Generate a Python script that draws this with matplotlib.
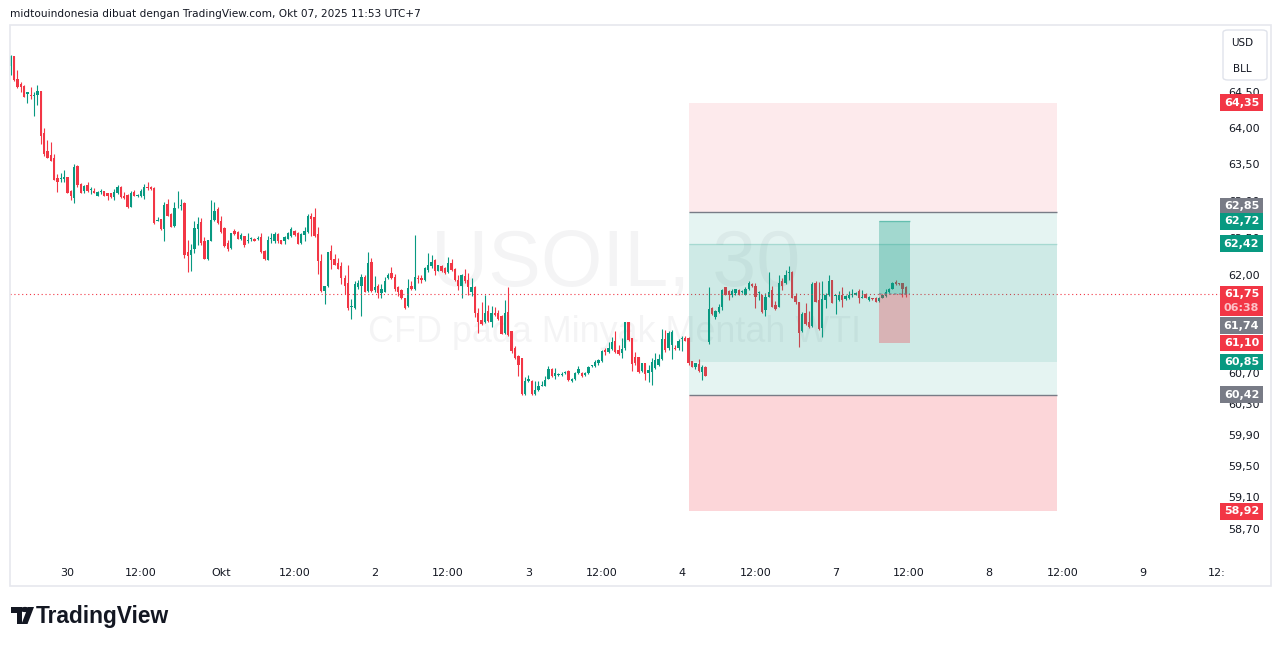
import numpy as np
import matplotlib
matplotlib.use("Agg")
import matplotlib.pyplot as plt
from matplotlib.patches import Rectangle, FancyBboxPatch, Polygon, Circle

# USOIL 30 min candles, Sep 29 15:30 .. Oct 7 11:30 (UTC+7), weekend gap compressed
opens = [64.86, 65.00, 64.68, 64.61, 64.58, 64.47, 64.46, 64.44, 64.45, 64.51,
         63.93, 63.68, 63.62, 63.59, 63.31, 63.30, 63.30, 63.32, 63.14, 63.04,
         63.48, 63.23, 63.14, 63.21, 63.15, 63.14, 63.07, 63.12, 63.13, 63.10,
         63.10, 63.05, 63.10, 63.19, 63.07, 63.08, 62.92, 63.12, 63.06, 63.06,
         63.07, 63.19, 63.19, 63.18, 62.73, 62.75, 62.62, 62.96, 62.82, 62.66,
         62.91, 62.93, 62.97, 62.31, 62.27, 62.35, 62.62, 62.71, 62.46, 62.22,
         62.46, 62.74, 62.89, 62.73, 62.63, 62.43, 62.36, 62.59, 62.58, 62.49,
         62.52, 62.46, 62.49, 62.48, 62.48, 62.51, 62.32, 62.20, 62.49, 62.46,
         62.55, 62.47, 62.45, 62.49, 62.52, 62.59, 62.57, 62.43, 62.54, 62.58,
         62.79, 62.78, 62.55, 62.19, 61.79, 61.85, 62.32, 62.21, 62.16, 62.12,
         61.96, 61.89, 61.57, 61.56, 61.84, 61.86, 61.98, 61.79, 62.17, 61.80,
         61.85, 61.76, 61.78, 61.96, 62.03, 61.98, 61.84, 61.80, 61.70, 61.59,
         61.86, 61.81, 61.96, 61.96, 61.93, 62.07, 62.12, 62.20, 62.06, 62.12,
         62.09, 62.04, 62.16, 62.08, 61.94, 61.86, 61.99, 61.93, 61.78, 61.84,
         61.50, 61.40, 61.37, 61.52, 61.38, 61.50, 61.49, 61.45, 61.23, 61.51,
         61.25, 61.03, 60.93, 60.90, 60.43, 60.60, 60.60, 60.43, 60.48, 60.54,
         60.54, 60.63, 60.76, 60.66, 60.68, 60.68, 60.70, 60.73, 60.60, 60.62,
         60.70, 60.71, 60.68, 60.71, 60.79, 60.80, 60.83, 60.86, 61.00, 60.98,
         61.02, 61.12, 61.00, 60.96, 61.03, 61.38, 61.16, 60.91, 60.91, 60.73,
         60.83, 60.70, 60.72, 60.77, 60.81, 60.89, 61.15, 61.03, 61.07, 61.03,
         61.03, 61.15, 61.17, 61.17, 60.86, 60.78, 60.82, 60.72, 60.78, 61.11,
         61.56, 61.44, 61.51, 61.58, 61.84, 61.79, 61.73, 61.76, 61.80, 61.77,
         61.74, 61.81, 61.88, 61.86, 61.76, 61.73, 61.53, 61.71, 61.80, 61.60,
         61.58, 61.92, 61.89, 62.03, 62.04, 61.72, 61.64, 61.25, 61.50, 61.38,
         61.32, 61.90, 61.67, 61.29, 61.67, 61.73, 61.93, 61.72, 61.67, 61.74,
         61.68, 61.70, 61.73, 61.74, 61.79, 61.70, 61.75, 61.67, 61.69, 61.70,
         61.65, 61.70, 61.72, 61.77, 61.82, 61.91, 61.89, 61.89, 61.84]
highs = [65.02, 65.00, 64.80, 64.64, 64.59, 64.50, 64.57, 64.50, 64.59, 64.51,
         64.00, 63.83, 63.81, 63.64, 63.36, 63.38, 63.42, 63.33, 63.15, 63.50,
         63.49, 63.24, 63.22, 63.26, 63.19, 63.18, 63.13, 63.16, 63.14, 63.11,
         63.10, 63.16, 63.21, 63.20, 63.12, 63.09, 63.13, 63.15, 63.09, 63.16,
         63.23, 63.26, 63.20, 63.19, 62.78, 62.76, 62.99, 63.02, 62.83, 62.99,
         63.13, 63.03, 62.98, 62.47, 62.41, 62.72, 62.78, 62.77, 62.51, 62.47,
         63.01, 62.99, 62.91, 62.80, 62.64, 62.47, 62.57, 62.62, 62.59, 62.57,
         62.53, 62.56, 62.51, 62.50, 62.53, 62.57, 62.33, 62.53, 62.56, 62.58,
         62.56, 62.47, 62.52, 62.58, 62.64, 62.60, 62.58, 62.57, 62.65, 62.82,
         62.84, 62.90, 62.65, 62.28, 61.86, 62.31, 62.40, 62.28, 62.23, 62.17,
         62.00, 62.14, 61.68, 61.92, 61.93, 62.01, 62.00, 62.31, 62.23, 61.99,
         61.88, 61.88, 61.98, 62.03, 62.11, 62.01, 61.86, 61.81, 61.70, 61.95,
         61.92, 62.54, 62.00, 62.00, 62.11, 62.29, 62.27, 62.21, 62.14, 62.14,
         62.11, 62.24, 62.21, 62.10, 62.00, 62.02, 62.08, 62.03, 61.96, 61.85,
         61.56, 61.64, 61.74, 61.60, 61.59, 61.58, 61.53, 61.47, 61.67, 61.84,
         61.25, 61.06, 60.94, 60.90, 60.65, 60.68, 60.61, 60.60, 60.60, 60.60,
         60.66, 60.79, 60.77, 60.77, 60.70, 60.72, 60.73, 60.74, 60.64, 60.72,
         60.79, 60.72, 60.72, 60.79, 60.81, 60.87, 60.89, 61.00, 61.03, 61.11,
         61.18, 61.26, 61.07, 61.17, 61.38, 61.38, 61.16, 60.98, 60.91, 60.84,
         60.84, 60.81, 60.90, 60.96, 60.95, 61.28, 61.27, 61.25, 61.27, 61.07,
         61.15, 61.19, 61.19, 61.18, 60.86, 60.84, 60.89, 60.81, 60.79, 61.84,
         61.57, 61.54, 61.62, 61.81, 61.84, 61.80, 61.81, 61.82, 61.81, 61.80,
         61.84, 61.92, 61.89, 61.89, 61.79, 61.74, 61.76, 62.04, 61.85, 61.65,
         62.00, 61.96, 62.07, 62.12, 62.05, 61.76, 61.64, 61.51, 61.63, 61.52,
         61.91, 61.92, 61.91, 61.92, 61.76, 62.00, 61.94, 61.74, 61.79, 61.84,
         61.74, 61.79, 61.81, 61.77, 61.81, 61.80, 61.76, 61.72, 61.70, 61.71,
         61.71, 61.74, 61.82, 61.83, 61.91, 61.93, 61.90, 61.89, 61.85]
lows = [64.73, 64.65, 64.55, 64.49, 64.42, 64.34, 64.40, 64.17, 64.31, 63.78,
        63.61, 63.58, 63.54, 63.28, 63.12, 63.26, 63.26, 63.10, 63.01, 62.97,
        63.19, 63.10, 63.10, 63.12, 63.09, 63.10, 63.06, 63.09, 63.07, 63.01,
        63.04, 63.01, 63.09, 63.04, 63.03, 62.90, 62.91, 63.06, 63.05, 63.05,
        63.02, 63.15, 63.15, 62.69, 62.72, 62.61, 62.45, 62.79, 62.64, 62.65,
        62.90, 62.88, 62.23, 62.04, 62.05, 62.29, 62.40, 62.40, 62.21, 62.20,
        62.46, 62.72, 62.69, 62.57, 62.38, 62.32, 62.35, 62.54, 62.48, 62.47,
        62.38, 62.43, 62.46, 62.45, 62.47, 62.30, 62.20, 62.20, 62.43, 62.43,
        62.43, 62.41, 62.41, 62.48, 62.51, 62.53, 62.41, 62.41, 62.45, 62.57,
        62.52, 62.51, 62.01, 61.78, 61.62, 61.84, 62.08, 62.13, 62.08, 61.88,
        61.75, 61.54, 61.41, 61.55, 61.82, 61.45, 61.77, 61.77, 61.78, 61.78,
        61.70, 61.70, 61.77, 61.95, 61.95, 61.79, 61.72, 61.68, 61.55, 61.58,
        61.80, 61.80, 61.90, 61.89, 61.92, 62.04, 62.10, 62.00, 62.05, 62.04,
        62.02, 62.03, 62.06, 61.92, 61.80, 61.69, 61.90, 61.73, 61.72, 61.44,
        61.23, 61.34, 61.36, 61.37, 61.31, 61.45, 61.40, 61.21, 61.22, 61.19,
        60.96, 60.89, 60.67, 60.42, 60.42, 60.59, 60.41, 60.42, 60.47, 60.53,
        60.53, 60.62, 60.65, 60.63, 60.67, 60.66, 60.69, 60.60, 60.59, 60.61,
        60.69, 60.65, 60.67, 60.69, 60.78, 60.78, 60.81, 60.85, 60.94, 60.96,
        61.00, 60.97, 60.94, 60.90, 61.00, 61.13, 60.73, 60.81, 60.71, 60.72,
        60.61, 60.59, 60.55, 60.75, 60.79, 60.87, 60.98, 61.00, 60.89, 61.00,
        61.01, 60.99, 61.12, 60.81, 60.78, 60.76, 60.72, 60.61, 60.66, 61.09,
        61.47, 61.41, 61.50, 61.54, 61.73, 61.67, 61.71, 61.74, 61.73, 61.76,
        61.73, 61.80, 61.84, 61.56, 61.67, 61.50, 61.45, 61.71, 61.57, 61.53,
        61.57, 61.80, 61.88, 61.93, 61.69, 61.62, 61.04, 61.24, 61.33, 61.30,
        61.31, 61.64, 61.27, 61.18, 61.56, 61.72, 61.63, 61.48, 61.66, 61.58,
        61.67, 61.68, 61.71, 61.73, 61.63, 61.69, 61.69, 61.66, 61.67, 61.64,
        61.64, 61.69, 61.71, 61.76, 61.81, 61.87, 61.87, 61.71, 61.71]
closes = [65.00, 64.67, 64.57, 64.56, 64.43, 64.50, 64.44, 64.45, 64.51, 63.89,
          63.64, 63.59, 63.55, 63.29, 63.26, 63.31, 63.32, 63.11, 63.06, 63.46,
          63.22, 63.11, 63.20, 63.14, 63.16, 63.11, 63.12, 63.14, 63.07, 63.07,
          63.05, 63.12, 63.19, 63.05, 63.04, 62.91, 63.11, 63.07, 63.08, 63.13,
          63.19, 63.18, 63.16, 62.70, 62.74, 62.62, 62.94, 62.80, 62.65, 62.90,
          62.92, 62.94, 62.27, 62.25, 62.34, 62.63, 62.69, 62.43, 62.22, 62.47,
          62.74, 62.86, 62.70, 62.58, 62.39, 62.35, 62.57, 62.55, 62.49, 62.54,
          62.40, 62.47, 62.50, 62.46, 62.49, 62.31, 62.21, 62.47, 62.50, 62.55,
          62.46, 62.42, 62.51, 62.56, 62.62, 62.54, 62.42, 62.55, 62.59, 62.79,
          62.76, 62.52, 62.19, 61.79, 61.85, 62.31, 62.20, 62.14, 62.08, 61.96,
          61.86, 61.56, 61.58, 61.88, 61.90, 61.97, 61.78, 62.16, 61.79, 61.84,
          61.76, 61.81, 61.92, 62.00, 61.96, 61.81, 61.78, 61.70, 61.56, 61.83,
          61.81, 61.98, 61.95, 61.94, 62.09, 62.14, 62.18, 62.06, 62.13, 62.05,
          62.03, 62.16, 62.07, 61.93, 61.85, 62.00, 61.92, 61.84, 61.84, 61.50,
          61.38, 61.35, 61.49, 61.39, 61.50, 61.47, 61.42, 61.22, 61.49, 61.20,
          60.99, 60.90, 60.81, 60.43, 60.60, 60.62, 60.43, 60.48, 60.53, 60.55,
          60.61, 60.76, 60.66, 60.70, 60.69, 60.69, 60.71, 60.61, 60.63, 60.71,
          60.75, 60.66, 60.71, 60.78, 60.80, 60.85, 60.88, 60.99, 60.98, 61.03,
          61.11, 60.98, 60.95, 61.02, 61.37, 61.14, 60.82, 60.83, 60.72, 60.83,
          60.69, 60.74, 60.85, 60.88, 60.89, 61.15, 61.01, 61.23, 61.24, 61.02,
          61.13, 61.16, 61.13, 60.83, 60.78, 60.83, 60.73, 60.78, 60.67, 61.55,
          61.48, 61.52, 61.58, 61.80, 61.74, 61.73, 61.79, 61.81, 61.74, 61.79,
          61.82, 61.89, 61.85, 61.71, 61.77, 61.51, 61.71, 61.77, 61.58, 61.55,
          61.89, 61.86, 62.00, 62.04, 61.70, 61.64, 61.23, 61.48, 61.35, 61.31,
          61.88, 61.64, 61.28, 61.68, 61.73, 61.92, 61.63, 61.73, 61.73, 61.67,
          61.72, 61.74, 61.74, 61.76, 61.70, 61.71, 61.70, 61.71, 61.68, 61.64,
          61.70, 61.73, 61.78, 61.82, 61.89, 61.88, 61.88, 61.81, 61.75]

# time axis (bar index of each label)
time_ticks = [17, 39, 63, 85, 109, 131, 155, 177, 201, 223, 247, 269, 293, 315, 339, 361]
time_labels = ["30", "12:00", "Okt", "12:00", "2", "12:00", "3", "12:00",
               "4", "12:00", "7", "12:00", "8", "12:00", "9", "12:"]

price_ticks = [64.5, 64.0, 63.5, 63.0, 62.5, 62.0, 60.7, 60.3, 59.9, 59.5, 59.1, 58.7]

last_price = 61.75
countdown = "06:38"

# big position drawing
box_start, box_end = 203, 313.3
upper_stop, upper_entry = 64.35, 62.85
lower_entry, lower_stop = 60.42, 58.92
zone_top, zone_bottom = 62.42, 60.85
# small long position
pos_start, pos_end = 260, 269.2
pos_target, pos_entry, pos_stop = 62.72, 61.75, 61.10

# price axis badges: value, colour, shift in px (label collision)
badge_vals = [64.35, 62.85, 62.72, 62.42, 61.74, 61.10, 60.85, 60.42, 58.92]
badge_cols = ["red", "gray", "green", "green", "gray", "red", "green", "gray", "red"]
badge_shift = [0, -6, 0, 0, 31, 0, 0, 0, 0]

GREEN = "#089981"
RED = "#f23645"
GRAY = "#787b86"
TEXT = "#131722"
COLS = {"red": RED, "green": GREEN, "gray": GRAY}

W, H = 1281, 646


def fx(x):
    return x / W


def fy(y):
    return 1 - y / H


fig = plt.figure(figsize=(W / 100, H / 100), dpi=100)
fig.patch.set_facecolor("white")
ax = fig.add_axes([fx(10), fy(557), fx(1210), 532 / H])
ax.set_yscale("log")
ax.set_xlim(-0.21, 362.1)
ax.set_ylim(58.342, 65.435)
for s in ax.spines.values():
    s.set_visible(False)

o = np.array(opens)
h = np.array(highs)
l = np.array(lows)
c = np.array(closes)
x = np.arange(len(c))
up = c >= o
cols = np.where(up, GREEN, RED)

# candles
ax.vlines(x, l, h, colors=cols, lw=0.8, zorder=2)
body_lo = np.minimum(o, c)
body_h = np.maximum(np.abs(c - o), 0.012)
ax.bar(x, body_h, bottom=body_lo, width=0.7, color=cols, linewidth=0, zorder=2)

# last price line
ax.axhline(last_price, color=RED, lw=0.8, linestyle=(0, (1, 2.5)), zorder=3)

# watermark
ax.text(fx(616), fy(265), "USOIL, 30", transform=fig.transFigure, ha="center", va="center",
        fontsize=57, family="Liberation Sans", color=TEXT, alpha=0.045, zorder=0)
ax.text(fx(614), fy(333), "CFD pada Minyak Mentah WTI", transform=fig.transFigure,
        ha="center", va="center", fontsize=25.8, family="Liberation Sans",
        color=TEXT, alpha=0.045, zorder=0)

# position drawing zones (drawn over the candles)
bw = box_end - box_start
ax.add_patch(Rectangle((box_start, upper_entry), bw, upper_stop - upper_entry,
                       fc=RED, alpha=0.1, lw=0, zorder=4))
ax.add_patch(Rectangle((box_start, lower_entry), bw, upper_entry - lower_entry,
                       fc=GREEN, alpha=0.1, lw=0, zorder=4))
ax.add_patch(Rectangle((box_start, zone_bottom), bw, zone_top - zone_bottom,
                       fc=GREEN, alpha=0.1, lw=0, zorder=4))
ax.add_patch(Rectangle((box_start, lower_stop), bw, lower_entry - lower_stop,
                       fc=RED, alpha=0.2, lw=0, zorder=4))
ax.hlines([upper_entry, lower_entry], box_start, box_end, colors=GRAY, lw=1, zorder=5)
ax.hlines(zone_top, box_start, box_end, colors=GREEN, alpha=0.2, lw=1, zorder=5)

pw = pos_end - pos_start
ax.add_patch(Rectangle((pos_start, pos_entry), pw, pos_target - pos_entry,
                       fc=GREEN, alpha=0.3, lw=0, zorder=6))
ax.add_patch(Rectangle((pos_start, pos_stop), pw, pos_entry - pos_stop,
                       fc=RED, alpha=0.3, lw=0, zorder=6))
ax.hlines(pos_target, pos_start, pos_end, colors=GREEN, alpha=0.4, lw=1, zorder=6)
ax.hlines(pos_entry, pos_start, pos_end, colors=GRAY, alpha=0.7, lw=1.2,
          linestyle=(0, (1.5, 1.5)), zorder=6)

# axes ticks
ax.set_xticks(time_ticks)
ax.set_xticklabels(time_labels)
ax.yaxis.tick_right()
ax.set_yticks(price_ticks)
ax.set_yticklabels([f"{v:.2f}".replace(".", ",") for v in price_ticks])
ax.yaxis.set_minor_locator(matplotlib.ticker.NullLocator())
ax.tick_params(axis="both", length=0, labelsize=8, labelcolor=TEXT)
ax.tick_params(axis="x", pad=8)
ax.tick_params(axis="y", pad=6)

# outer frame
fig.add_artist(Rectangle((fx(10), fy(586)), fx(1261), 561 / H, transform=fig.transFigure,
                         fill=False, ec="#e6e8ee", lw=1.2, zorder=1))

# currency box
fig.add_artist(FancyBboxPatch((fx(1223), fy(80)), fx(44), 50 / H, transform=fig.transFigure,
                              boxstyle="round,pad=0,rounding_size=0.004",
                              fc="white", ec="#e0e3eb", lw=1, zorder=2))
fig.text(fx(1242), fy(43), "USD", ha="center", va="center", fontsize=7.5, color=TEXT)
fig.text(fx(1242), fy(69), "BLL", ha="center", va="center", fontsize=7.5, color=TEXT)


def badge(val, col, shift):
    yp = H - ax.transData.transform((0, val))[1] + shift
    fig.add_artist(Rectangle((fx(1220), fy(yp + 8.3)), fx(43), 16.6 / H,
                             transform=fig.transFigure, fc=col, lw=0, zorder=4))
    fig.text(fx(1241.5), fy(yp), f"{val:.2f}".replace(".", ","), ha="center", va="center",
             fontsize=8, fontweight="bold", color="white", zorder=5)


for v, cn, sh in zip(badge_vals, badge_cols, badge_shift):
    badge(v, COLS[cn], sh)

# last price badge with countdown
yl = H - ax.transData.transform((0, last_price))[1]
fig.add_artist(Rectangle((fx(1220), fy(yl + 22.7)), fx(43), 30.7 / H,
                         transform=fig.transFigure, fc=RED, lw=0, zorder=4))
fig.text(fx(1241.5), fy(yl), f"{last_price:.2f}".replace(".", ","), ha="center", va="center",
         fontsize=8, fontweight="bold", color="white", zorder=5)
fig.text(fx(1241.5), fy(yl + 14), countdown, ha="center", va="center",
         fontsize=8, fontweight="bold", color="#fcc3c8", zorder=5)

# header
fig.text(fx(10), fy(14), "midtouindonesia dibuat dengan TradingView.com, Okt 07, 2025 11:53 UTC+7",
         ha="left", va="center", fontsize=7.6, color=TEXT)

# TradingView logo
fig.add_artist(Polygon([(fx(11), fy(607)), (fx(22), fy(607)), (fx(22), fy(624)), (fx(16.5), fy(624)),
                        (fx(16.5), fy(612.5)), (fx(11), fy(612.5))], closed=True,
                       transform=fig.transFigure, fc=TEXT, lw=0))
fig.add_artist(Circle((fx(25), fy(609.5)), 2.6 / H, transform=fig.transFigure, fc=TEXT, lw=0))
fig.add_artist(Polygon([(fx(28), fy(607)), (fx(34), fy(607)), (fx(27.5), fy(624)), (fx(21.5), fy(624))],
                       closed=True, transform=fig.transFigure, fc=TEXT, lw=0))
fig.text(fx(36), fy(616), "TradingView", ha="left", va="center", fontsize=16.4,
         fontweight="bold", family="Liberation Sans", color=TEXT)

fig.savefig("out.png", dpi=100, facecolor="white")
